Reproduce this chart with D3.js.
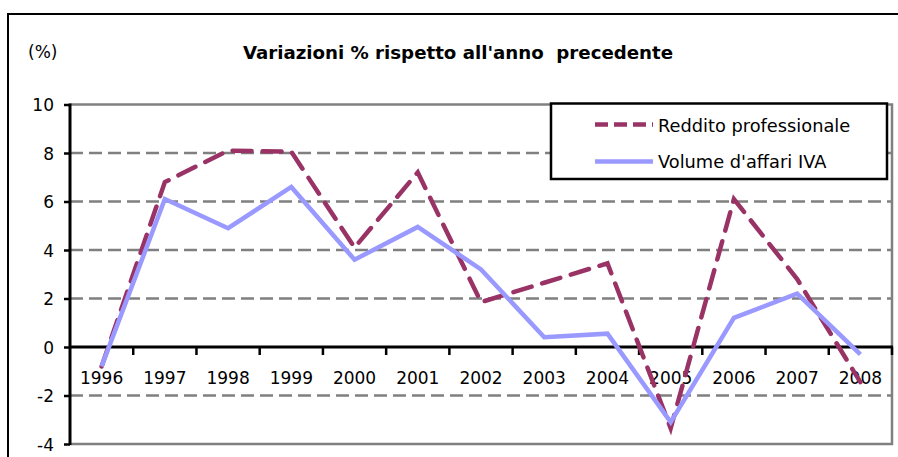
<!DOCTYPE html>
<html>
<head>
<meta charset="utf-8">
<script src="https://cdn.jsdelivr.net/npm/d3@7"></script>
<style>
  html, body { margin: 0; padding: 0; background: #fff; }
  svg { display: block; font-family: "DejaVu Sans", Verdana, sans-serif; }
</style>
</head>
<body>
<svg id="chart" width="898" height="457"></svg>
<script>
// ---- data ----
const years = ["1996","1997","1998","1999","2000","2001","2002","2003","2004","2005","2006","2007","2008"];
const reddito = [-0.8, 6.8, 8.1, 8.05, 4.1, 7.2, 1.85, 2.65, 3.45, -3.35, 6.1, 2.8, -1.45];
const volume  = [-0.8, 6.1, 4.9, 6.6, 3.6, 4.95, 3.2, 0.4, 0.55, -3.1, 1.2, 2.2, -0.3];
const yTicks = [-4, -2, 0, 2, 4, 6, 8, 10];
const seriesNames = ["Reddito professionale", "Volume d'affari IVA"];
const title = "Variazioni % rispetto all'anno  precedente";
const unitLabel = "(%)";

// ---- layout ----
const svg = d3.select("#chart");
const plot = { left: 70, right: 892, top: 104.5, bottom: 444 };

const x = d3.scaleBand().domain(years).range([plot.left, plot.right]).paddingInner(0).paddingOuter(0);
const y = d3.scaleLinear().domain([-4, 10]).range([plot.bottom, plot.top]);

// outer frame
svg.append("rect").attr("x", 8).attr("y", 14).attr("width", 1000).attr("height", 1000)
  .attr("fill", "none").attr("stroke", "#000").attr("stroke-width", 2);

// title and unit
svg.append("text").attr("x", 458).attr("y", 59).attr("text-anchor", "middle")
  .attr("font-weight", "bold").attr("font-size", 18.2).attr("fill", "#000")
  .style("white-space", "pre").text(title);
svg.append("text").attr("x", 28).attr("y", 58).attr("font-size", 17).attr("fill", "#000").text(unitLabel);

// gridlines
svg.append("g").selectAll("line").data(yTicks.filter(v => v !== 0 && v !== -4 && v !== 10)).join("line")
  .attr("x1", plot.left).attr("x2", plot.right)
  .attr("y1", d => y(d)).attr("y2", d => y(d))
  .attr("stroke", "#808080").attr("stroke-width", 2.5).attr("stroke-dasharray", "13,6");

// plot border (top, right, bottom)
svg.append("path")
  .attr("d", `M${plot.left},${y(10)}H${plot.right}V${y(-4)}H${plot.left}`)
  .attr("fill", "none").attr("stroke", "#808080").attr("stroke-width", 2.5);

// y axis
const yAxis = d3.axisLeft(y).tickValues(yTicks).tickSize(6).tickPadding(10).tickFormat(d => String(d));
const gy = svg.append("g").attr("transform", `translate(${plot.left},0)`).call(yAxis);
gy.select(".domain").attr("stroke", "#000").attr("stroke-width", 3)
  .attr("d", `M0,${y(-4)+1}V${y(10)-1}`);
gy.selectAll(".tick line").attr("stroke", "#000").attr("stroke-width", 2.5);
gy.selectAll(".tick text").attr("font-size", 17).attr("fill", "#000")
  .attr("font-family", "DejaVu Sans, Verdana, sans-serif").attr("dy", "0.36em");

// x axis at zero
const gx = svg.append("g").attr("transform", `translate(0,${y(0)})`);
const bounds = years.map(d => x(d)).concat([plot.right]);
gx.append("line").attr("x1", plot.left).attr("x2", plot.right + 1).attr("y1", 0).attr("y2", 0)
  .attr("stroke", "#000").attr("stroke-width", 3);
gx.selectAll("line.tk").data(bounds.slice(1)).join("line").attr("class", "tk")
  .attr("x1", d => d).attr("x2", d => d).attr("y1", 0).attr("y2", 8)
  .attr("stroke", "#000").attr("stroke-width", 2.5);
const xAxis = d3.axisBottom(x).tickSize(0).tickPadding(0);
const gxl = svg.append("g").attr("transform", `translate(0,${y(0)})`).call(xAxis);
gxl.select(".domain").remove();
gxl.selectAll(".tick text").attr("font-size", 17).attr("fill", "#000")
  .attr("font-family", "DejaVu Sans, Verdana, sans-serif").attr("dy", null).attr("y", 37);

// lines
const line = d3.line().x((d, i) => x(years[i]) + x.bandwidth() / 2).y(d => y(d));
svg.append("path").datum(reddito).attr("d", line).attr("fill", "none")
  .attr("stroke", "#993366").attr("stroke-width", 4.5).attr("stroke-dasharray", "19,11")
  .attr("stroke-linecap", "round").attr("stroke-linejoin", "miter");
svg.append("path").datum(volume).attr("d", line).attr("fill", "none")
  .attr("stroke", "#9999FF").attr("stroke-width", 4.5).attr("stroke-linejoin", "miter");

// legend
const lg = svg.append("g");
lg.append("rect").attr("x", 551).attr("y", 103.5).attr("width", 336).attr("height", 75.5)
  .attr("fill", "#fff").attr("stroke", "#000").attr("stroke-width", 2.5);
const legendItems = [
  { name: seriesNames[0], color: "#993366", dash: "13,6", cy: 124.5, ty: 131.5 },
  { name: seriesNames[1], color: "#9999FF", dash: null, cy: 161.5, ty: 168 }
];
legendItems.forEach(it => {
  lg.append("line").attr("x1", 595).attr("x2", 653).attr("y1", it.cy).attr("y2", it.cy)
    .attr("stroke", it.color).attr("stroke-width", 4.5).attr("stroke-dasharray", it.dash);
  lg.append("text").attr("x", 658).attr("y", it.ty).attr("font-size", 17.8).attr("fill", "#000").text(it.name);
});
</script>
</body>
</html>
